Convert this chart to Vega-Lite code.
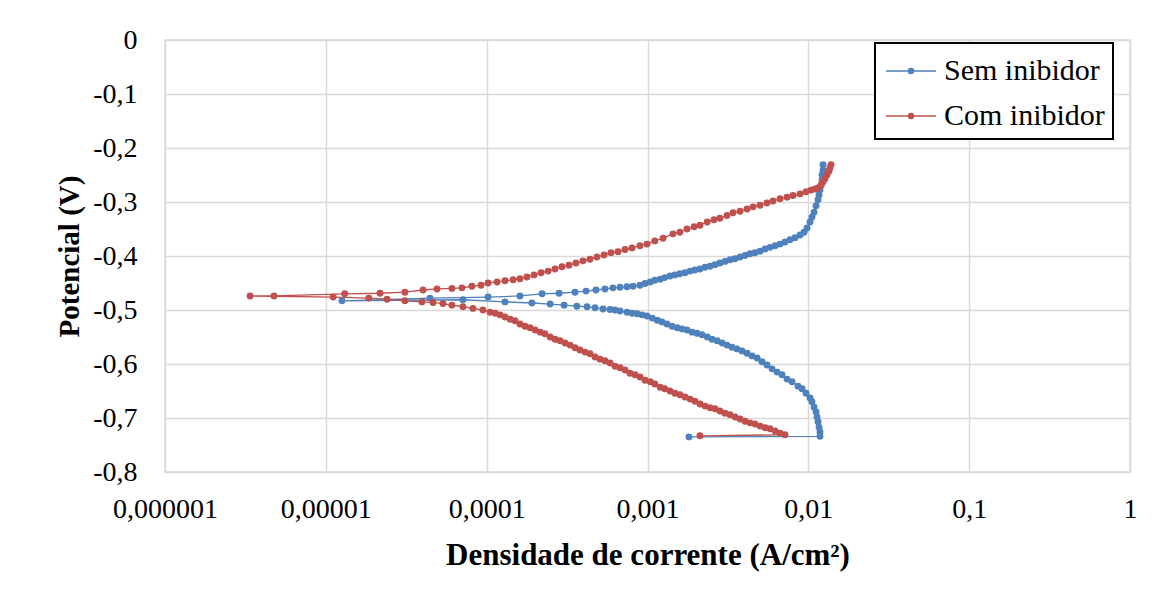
{
  "$schema": "https://vega.github.io/schema/vega-lite/v6.json",
  "width": 965,
  "height": 432,
  "autosize": {"type": "none"},
  "padding": {"left": 165, "top": 40, "right": 37, "bottom": 129},
  "background": "white",
  "config": {
    "view": {"stroke": "#D9D9D9", "strokeWidth": 1.5},
    "font": "Liberation Serif",
    "legend": {"strokeWidth": 2},
    "axis": {
      "grid": true, "gridColor": "#D9D9D9", "gridWidth": 1.5,
      "domain": false, "ticks": false, "labelFlush": false,
      "labelFont": "Liberation Serif", "labelFontSize": 28, "labelColor": "#000000",
      "titleFont": "Liberation Serif", "titleFontSize": 29, "titleFontWeight": "bold", "titleColor": "#000000"
    }
  },
  "data": {"values": [
    {"serie":"Sem inibidor","n":1,"j":0.00181,"E":-0.735},
    {"serie":"Sem inibidor","n":2,"j":0.01182,"E":-0.734},
    {"serie":"Sem inibidor","n":3,"j":0.01182,"E":-0.726},
    {"serie":"Sem inibidor","n":4,"j":0.01166,"E":-0.717},
    {"serie":"Sem inibidor","n":5,"j":0.01149,"E":-0.707},
    {"serie":"Sem inibidor","n":6,"j":0.01133,"E":-0.698},
    {"serie":"Sem inibidor","n":7,"j":0.01117,"E":-0.689},
    {"serie":"Sem inibidor","n":8,"j":0.01085,"E":-0.680},
    {"serie":"Sem inibidor","n":9,"j":0.01054,"E":-0.670},
    {"serie":"Sem inibidor","n":10,"j":0.01025,"E":-0.663},
    {"serie":"Sem inibidor","n":11,"j":0.00968,"E":-0.654},
    {"serie":"Sem inibidor","n":12,"j":0.00914,"E":-0.646},
    {"serie":"Sem inibidor","n":13,"j":0.00863,"E":-0.641},
    {"serie":"Sem inibidor","n":14,"j":0.00792,"E":-0.633},
    {"serie":"Sem inibidor","n":15,"j":0.00737,"E":-0.628},
    {"serie":"Sem inibidor","n":16,"j":0.00686,"E":-0.620},
    {"serie":"Sem inibidor","n":17,"j":0.00639,"E":-0.615},
    {"serie":"Sem inibidor","n":18,"j":0.00595,"E":-0.609},
    {"serie":"Sem inibidor","n":19,"j":0.00553,"E":-0.602},
    {"serie":"Sem inibidor","n":20,"j":0.00515,"E":-0.596},
    {"serie":"Sem inibidor","n":21,"j":0.00480,"E":-0.589},
    {"serie":"Sem inibidor","n":22,"j":0.00447,"E":-0.585},
    {"serie":"Sem inibidor","n":23,"j":0.00416,"E":-0.580},
    {"serie":"Sem inibidor","n":24,"j":0.00387,"E":-0.576},
    {"serie":"Sem inibidor","n":25,"j":0.00360,"E":-0.572},
    {"serie":"Sem inibidor","n":26,"j":0.00335,"E":-0.569},
    {"serie":"Sem inibidor","n":27,"j":0.00312,"E":-0.565},
    {"serie":"Sem inibidor","n":28,"j":0.00291,"E":-0.561},
    {"serie":"Sem inibidor","n":29,"j":0.00271,"E":-0.557},
    {"serie":"Sem inibidor","n":30,"j":0.00252,"E":-0.554},
    {"serie":"Sem inibidor","n":31,"j":0.00235,"E":-0.550},
    {"serie":"Sem inibidor","n":32,"j":0.00218,"E":-0.546},
    {"serie":"Sem inibidor","n":33,"j":0.00203,"E":-0.543},
    {"serie":"Sem inibidor","n":34,"j":0.00189,"E":-0.541},
    {"serie":"Sem inibidor","n":35,"j":0.00176,"E":-0.537},
    {"serie":"Sem inibidor","n":36,"j":0.00164,"E":-0.535},
    {"serie":"Sem inibidor","n":37,"j":0.00153,"E":-0.533},
    {"serie":"Sem inibidor","n":38,"j":0.00142,"E":-0.530},
    {"serie":"Sem inibidor","n":39,"j":0.00132,"E":-0.526},
    {"serie":"Sem inibidor","n":40,"j":0.00123,"E":-0.522},
    {"serie":"Sem inibidor","n":41,"j":0.00115,"E":-0.519},
    {"serie":"Sem inibidor","n":42,"j":0.00107,"E":-0.515},
    {"serie":"Sem inibidor","n":43,"j":0.000993,"E":-0.511},
    {"serie":"Sem inibidor","n":44,"j":0.000924,"E":-0.509},
    {"serie":"Sem inibidor","n":45,"j":0.000860,"E":-0.507},
    {"serie":"Sem inibidor","n":46,"j":0.000801,"E":-0.506},
    {"serie":"Sem inibidor","n":47,"j":0.000746,"E":-0.504},
    {"serie":"Sem inibidor","n":48,"j":0.000675,"E":-0.502},
    {"serie":"Sem inibidor","n":49,"j":0.000628,"E":-0.500},
    {"serie":"Sem inibidor","n":50,"j":0.000585,"E":-0.499},
    {"serie":"Sem inibidor","n":51,"j":0.000529,"E":-0.498},
    {"serie":"Sem inibidor","n":52,"j":0.000472,"E":-0.496},
    {"serie":"Sem inibidor","n":53,"j":0.000421,"E":-0.494},
    {"serie":"Sem inibidor","n":54,"j":0.000364,"E":-0.493},
    {"serie":"Sem inibidor","n":55,"j":0.000303,"E":-0.491},
    {"serie":"Sem inibidor","n":56,"j":0.000248,"E":-0.489},
    {"serie":"Sem inibidor","n":57,"j":0.000191,"E":-0.487},
    {"serie":"Sem inibidor","n":58,"j":0.000130,"E":-0.485},
    {"serie":"Sem inibidor","n":59,"j":0.0000712,"E":-0.481},
    {"serie":"Sem inibidor","n":60,"j":0.0000126,"E":-0.483},
    {"serie":"Sem inibidor","n":61,"j":0.0000444,"E":-0.478},
    {"serie":"Sem inibidor","n":62,"j":0.000102,"E":-0.476},
    {"serie":"Sem inibidor","n":63,"j":0.000161,"E":-0.474},
    {"serie":"Sem inibidor","n":64,"j":0.000221,"E":-0.470},
    {"serie":"Sem inibidor","n":65,"j":0.000282,"E":-0.469},
    {"serie":"Sem inibidor","n":66,"j":0.000354,"E":-0.467},
    {"serie":"Sem inibidor","n":67,"j":0.000415,"E":-0.465},
    {"serie":"Sem inibidor","n":68,"j":0.000478,"E":-0.463},
    {"serie":"Sem inibidor","n":69,"j":0.000544,"E":-0.461},
    {"serie":"Sem inibidor","n":70,"j":0.000610,"E":-0.459},
    {"serie":"Sem inibidor","n":71,"j":0.000675,"E":-0.458},
    {"serie":"Sem inibidor","n":72,"j":0.000746,"E":-0.457},
    {"serie":"Sem inibidor","n":73,"j":0.000813,"E":-0.456},
    {"serie":"Sem inibidor","n":74,"j":0.000898,"E":-0.454},
    {"serie":"Sem inibidor","n":75,"j":0.000965,"E":-0.451},
    {"serie":"Sem inibidor","n":76,"j":0.00104,"E":-0.448},
    {"serie":"Sem inibidor","n":77,"j":0.00111,"E":-0.445},
    {"serie":"Sem inibidor","n":78,"j":0.00120,"E":-0.443},
    {"serie":"Sem inibidor","n":79,"j":0.00128,"E":-0.440},
    {"serie":"Sem inibidor","n":80,"j":0.00138,"E":-0.437},
    {"serie":"Sem inibidor","n":81,"j":0.00148,"E":-0.435},
    {"serie":"Sem inibidor","n":82,"j":0.00159,"E":-0.433},
    {"serie":"Sem inibidor","n":83,"j":0.00171,"E":-0.431},
    {"serie":"Sem inibidor","n":84,"j":0.00184,"E":-0.428},
    {"serie":"Sem inibidor","n":85,"j":0.00197,"E":-0.426},
    {"serie":"Sem inibidor","n":86,"j":0.00212,"E":-0.424},
    {"serie":"Sem inibidor","n":87,"j":0.00228,"E":-0.421},
    {"serie":"Sem inibidor","n":88,"j":0.00245,"E":-0.419},
    {"serie":"Sem inibidor","n":89,"j":0.00263,"E":-0.416},
    {"serie":"Sem inibidor","n":90,"j":0.00282,"E":-0.413},
    {"serie":"Sem inibidor","n":91,"j":0.00303,"E":-0.410},
    {"serie":"Sem inibidor","n":92,"j":0.00326,"E":-0.407},
    {"serie":"Sem inibidor","n":93,"j":0.00350,"E":-0.405},
    {"serie":"Sem inibidor","n":94,"j":0.00376,"E":-0.402},
    {"serie":"Sem inibidor","n":95,"j":0.00404,"E":-0.399},
    {"serie":"Sem inibidor","n":96,"j":0.00434,"E":-0.396},
    {"serie":"Sem inibidor","n":97,"j":0.00466,"E":-0.394},
    {"serie":"Sem inibidor","n":98,"j":0.00501,"E":-0.391},
    {"serie":"Sem inibidor","n":99,"j":0.00538,"E":-0.387},
    {"serie":"Sem inibidor","n":100,"j":0.00578,"E":-0.384},
    {"serie":"Sem inibidor","n":101,"j":0.00621,"E":-0.381},
    {"serie":"Sem inibidor","n":102,"j":0.00667,"E":-0.378},
    {"serie":"Sem inibidor","n":103,"j":0.00716,"E":-0.374},
    {"serie":"Sem inibidor","n":104,"j":0.00770,"E":-0.370},
    {"serie":"Sem inibidor","n":105,"j":0.00827,"E":-0.366},
    {"serie":"Sem inibidor","n":106,"j":0.00888,"E":-0.361},
    {"serie":"Sem inibidor","n":107,"j":0.00940,"E":-0.356},
    {"serie":"Sem inibidor","n":108,"j":0.00982,"E":-0.348},
    {"serie":"Sem inibidor","n":109,"j":0.01025,"E":-0.337},
    {"serie":"Sem inibidor","n":110,"j":0.01054,"E":-0.328},
    {"serie":"Sem inibidor","n":111,"j":0.01085,"E":-0.319},
    {"serie":"Sem inibidor","n":112,"j":0.01117,"E":-0.307},
    {"serie":"Sem inibidor","n":113,"j":0.01149,"E":-0.296},
    {"serie":"Sem inibidor","n":114,"j":0.01166,"E":-0.287},
    {"serie":"Sem inibidor","n":115,"j":0.01182,"E":-0.278},
    {"serie":"Sem inibidor","n":116,"j":0.01199,"E":-0.269},
    {"serie":"Sem inibidor","n":117,"j":0.01217,"E":-0.259},
    {"serie":"Sem inibidor","n":118,"j":0.01217,"E":-0.250},
    {"serie":"Sem inibidor","n":119,"j":0.01234,"E":-0.241},
    {"serie":"Sem inibidor","n":120,"j":0.01234,"E":-0.231},
    {"serie":"Com inibidor","n":1,"j":0.00212,"E":-0.733},
    {"serie":"Com inibidor","n":2,"j":0.00716,"E":-0.731},
    {"serie":"Com inibidor","n":3,"j":0.00667,"E":-0.728},
    {"serie":"Com inibidor","n":4,"j":0.00621,"E":-0.724},
    {"serie":"Com inibidor","n":5,"j":0.00578,"E":-0.720},
    {"serie":"Com inibidor","n":6,"j":0.00538,"E":-0.718},
    {"serie":"Com inibidor","n":7,"j":0.00501,"E":-0.715},
    {"serie":"Com inibidor","n":8,"j":0.00466,"E":-0.711},
    {"serie":"Com inibidor","n":9,"j":0.00434,"E":-0.709},
    {"serie":"Com inibidor","n":10,"j":0.00404,"E":-0.706},
    {"serie":"Com inibidor","n":11,"j":0.00376,"E":-0.702},
    {"serie":"Com inibidor","n":12,"j":0.00350,"E":-0.698},
    {"serie":"Com inibidor","n":13,"j":0.00326,"E":-0.694},
    {"serie":"Com inibidor","n":14,"j":0.00303,"E":-0.691},
    {"serie":"Com inibidor","n":15,"j":0.00282,"E":-0.687},
    {"serie":"Com inibidor","n":16,"j":0.00263,"E":-0.683},
    {"serie":"Com inibidor","n":17,"j":0.00245,"E":-0.681},
    {"serie":"Com inibidor","n":18,"j":0.00228,"E":-0.678},
    {"serie":"Com inibidor","n":19,"j":0.00212,"E":-0.674},
    {"serie":"Com inibidor","n":20,"j":0.00197,"E":-0.669},
    {"serie":"Com inibidor","n":21,"j":0.00184,"E":-0.665},
    {"serie":"Com inibidor","n":22,"j":0.00171,"E":-0.661},
    {"serie":"Com inibidor","n":23,"j":0.00159,"E":-0.657},
    {"serie":"Com inibidor","n":24,"j":0.00148,"E":-0.654},
    {"serie":"Com inibidor","n":25,"j":0.00138,"E":-0.650},
    {"serie":"Com inibidor","n":26,"j":0.00128,"E":-0.646},
    {"serie":"Com inibidor","n":27,"j":0.00120,"E":-0.643},
    {"serie":"Com inibidor","n":28,"j":0.00111,"E":-0.637},
    {"serie":"Com inibidor","n":29,"j":0.00104,"E":-0.633},
    {"serie":"Com inibidor","n":30,"j":0.000965,"E":-0.630},
    {"serie":"Com inibidor","n":31,"j":0.000898,"E":-0.624},
    {"serie":"Com inibidor","n":32,"j":0.000836,"E":-0.620},
    {"serie":"Com inibidor","n":33,"j":0.000778,"E":-0.617},
    {"serie":"Com inibidor","n":34,"j":0.000725,"E":-0.611},
    {"serie":"Com inibidor","n":35,"j":0.000675,"E":-0.607},
    {"serie":"Com inibidor","n":36,"j":0.000628,"E":-0.604},
    {"serie":"Com inibidor","n":37,"j":0.000585,"E":-0.598},
    {"serie":"Com inibidor","n":38,"j":0.000544,"E":-0.594},
    {"serie":"Com inibidor","n":39,"j":0.000507,"E":-0.591},
    {"serie":"Com inibidor","n":40,"j":0.000472,"E":-0.587},
    {"serie":"Com inibidor","n":41,"j":0.000439,"E":-0.581},
    {"serie":"Com inibidor","n":42,"j":0.000409,"E":-0.578},
    {"serie":"Com inibidor","n":43,"j":0.000380,"E":-0.574},
    {"serie":"Com inibidor","n":44,"j":0.000354,"E":-0.570},
    {"serie":"Com inibidor","n":45,"j":0.000330,"E":-0.565},
    {"serie":"Com inibidor","n":46,"j":0.000307,"E":-0.561},
    {"serie":"Com inibidor","n":47,"j":0.000286,"E":-0.557},
    {"serie":"Com inibidor","n":48,"j":0.000266,"E":-0.554},
    {"serie":"Com inibidor","n":49,"j":0.000248,"E":-0.550},
    {"serie":"Com inibidor","n":50,"j":0.000230,"E":-0.544},
    {"serie":"Com inibidor","n":51,"j":0.000215,"E":-0.541},
    {"serie":"Com inibidor","n":52,"j":0.000200,"E":-0.537},
    {"serie":"Com inibidor","n":53,"j":0.000186,"E":-0.533},
    {"serie":"Com inibidor","n":54,"j":0.000173,"E":-0.530},
    {"serie":"Com inibidor","n":55,"j":0.000161,"E":-0.526},
    {"serie":"Com inibidor","n":56,"j":0.000150,"E":-0.520},
    {"serie":"Com inibidor","n":57,"j":0.000140,"E":-0.517},
    {"serie":"Com inibidor","n":58,"j":0.000130,"E":-0.513},
    {"serie":"Com inibidor","n":59,"j":0.000121,"E":-0.509},
    {"serie":"Com inibidor","n":60,"j":0.000113,"E":-0.506},
    {"serie":"Com inibidor","n":61,"j":0.000105,"E":-0.504},
    {"serie":"Com inibidor","n":62,"j":0.0000948,"E":-0.500},
    {"serie":"Com inibidor","n":63,"j":0.0000822,"E":-0.497},
    {"serie":"Com inibidor","n":64,"j":0.0000712,"E":-0.494},
    {"serie":"Com inibidor","n":65,"j":0.0000608,"E":-0.491},
    {"serie":"Com inibidor","n":66,"j":0.0000535,"E":-0.488},
    {"serie":"Com inibidor","n":67,"j":0.0000464,"E":-0.486},
    {"serie":"Com inibidor","n":68,"j":0.0000396,"E":-0.485},
    {"serie":"Com inibidor","n":69,"j":0.0000310,"E":-0.483},
    {"serie":"Com inibidor","n":70,"j":0.0000240,"E":-0.480},
    {"serie":"Com inibidor","n":71,"j":0.0000185,"E":-0.478},
    {"serie":"Com inibidor","n":72,"j":0.0000111,"E":-0.476},
    {"serie":"Com inibidor","n":73,"j":0.00000338,"E":-0.474},
    {"serie":"Com inibidor","n":74,"j":0.00000476,"E":-0.474},
    {"serie":"Com inibidor","n":75,"j":0.0000131,"E":-0.470},
    {"serie":"Com inibidor","n":76,"j":0.0000217,"E":-0.469},
    {"serie":"Com inibidor","n":77,"j":0.0000310,"E":-0.467},
    {"serie":"Com inibidor","n":78,"j":0.0000402,"E":-0.463},
    {"serie":"Com inibidor","n":79,"j":0.0000491,"E":-0.461},
    {"serie":"Com inibidor","n":80,"j":0.0000608,"E":-0.460},
    {"serie":"Com inibidor","n":81,"j":0.0000702,"E":-0.459},
    {"serie":"Com inibidor","n":82,"j":0.0000810,"E":-0.456},
    {"serie":"Com inibidor","n":83,"j":0.0000922,"E":-0.454},
    {"serie":"Com inibidor","n":84,"j":0.000102,"E":-0.450},
    {"serie":"Com inibidor","n":85,"j":0.000116,"E":-0.448},
    {"serie":"Com inibidor","n":86,"j":0.000130,"E":-0.446},
    {"serie":"Com inibidor","n":87,"j":0.000146,"E":-0.444},
    {"serie":"Com inibidor","n":88,"j":0.000161,"E":-0.442},
    {"serie":"Com inibidor","n":89,"j":0.000178,"E":-0.439},
    {"serie":"Com inibidor","n":90,"j":0.000197,"E":-0.435},
    {"serie":"Com inibidor","n":91,"j":0.000218,"E":-0.431},
    {"serie":"Com inibidor","n":92,"j":0.000241,"E":-0.428},
    {"serie":"Com inibidor","n":93,"j":0.000266,"E":-0.424},
    {"serie":"Com inibidor","n":94,"j":0.000294,"E":-0.420},
    {"serie":"Com inibidor","n":95,"j":0.000325,"E":-0.417},
    {"serie":"Com inibidor","n":96,"j":0.000359,"E":-0.413},
    {"serie":"Com inibidor","n":97,"j":0.000397,"E":-0.409},
    {"serie":"Com inibidor","n":98,"j":0.000439,"E":-0.406},
    {"serie":"Com inibidor","n":99,"j":0.000485,"E":-0.402},
    {"serie":"Com inibidor","n":100,"j":0.000537,"E":-0.398},
    {"serie":"Com inibidor","n":101,"j":0.000593,"E":-0.394},
    {"serie":"Com inibidor","n":102,"j":0.000656,"E":-0.392},
    {"serie":"Com inibidor","n":103,"j":0.000725,"E":-0.388},
    {"serie":"Com inibidor","n":104,"j":0.000801,"E":-0.385},
    {"serie":"Com inibidor","n":105,"j":0.000898,"E":-0.381},
    {"serie":"Com inibidor","n":106,"j":0.000993,"E":-0.378},
    {"serie":"Com inibidor","n":107,"j":0.00111,"E":-0.372},
    {"serie":"Com inibidor","n":108,"j":0.00125,"E":-0.367},
    {"serie":"Com inibidor","n":109,"j":0.00144,"E":-0.359},
    {"serie":"Com inibidor","n":110,"j":0.00159,"E":-0.356},
    {"serie":"Com inibidor","n":111,"j":0.00176,"E":-0.350},
    {"serie":"Com inibidor","n":112,"j":0.00195,"E":-0.346},
    {"serie":"Com inibidor","n":113,"j":0.00212,"E":-0.343},
    {"serie":"Com inibidor","n":114,"j":0.00235,"E":-0.337},
    {"serie":"Com inibidor","n":115,"j":0.00259,"E":-0.333},
    {"serie":"Com inibidor","n":116,"j":0.00282,"E":-0.330},
    {"serie":"Com inibidor","n":117,"j":0.00312,"E":-0.325},
    {"serie":"Com inibidor","n":118,"j":0.00340,"E":-0.320},
    {"serie":"Com inibidor","n":119,"j":0.00376,"E":-0.317},
    {"serie":"Com inibidor","n":120,"j":0.00416,"E":-0.313},
    {"serie":"Com inibidor","n":121,"j":0.00453,"E":-0.309},
    {"serie":"Com inibidor","n":122,"j":0.00501,"E":-0.306},
    {"serie":"Com inibidor","n":123,"j":0.00553,"E":-0.302},
    {"serie":"Com inibidor","n":124,"j":0.00603,"E":-0.298},
    {"serie":"Com inibidor","n":125,"j":0.00667,"E":-0.294},
    {"serie":"Com inibidor","n":126,"j":0.00737,"E":-0.291},
    {"serie":"Com inibidor","n":127,"j":0.00803,"E":-0.288},
    {"serie":"Com inibidor","n":128,"j":0.00888,"E":-0.285},
    {"serie":"Com inibidor","n":129,"j":0.00968,"E":-0.281},
    {"serie":"Com inibidor","n":130,"j":0.01039,"E":-0.278},
    {"serie":"Com inibidor","n":131,"j":0.01101,"E":-0.276},
    {"serie":"Com inibidor","n":132,"j":0.01149,"E":-0.274},
    {"serie":"Com inibidor","n":133,"j":0.01199,"E":-0.269},
    {"serie":"Com inibidor","n":134,"j":0.01234,"E":-0.263},
    {"serie":"Com inibidor","n":135,"j":0.01268,"E":-0.257},
    {"serie":"Com inibidor","n":136,"j":0.01305,"E":-0.250},
    {"serie":"Com inibidor","n":137,"j":0.01343,"E":-0.243},
    {"serie":"Com inibidor","n":138,"j":0.01362,"E":-0.237},
    {"serie":"Com inibidor","n":139,"j":0.01384,"E":-0.231}
  ]},
  "mark": {"type": "line", "strokeWidth": 1.3, "point": {"filled": true, "size": 48, "opacity": 1}},
  "encoding": {
    "x": {
      "field": "j", "type": "quantitative",
      "scale": {"type": "log", "domain": [0.000001, 1], "nice": false},
      "axis": {
        "title": "Densidade de corrente (A/cm²)",
        "values": [0.000001, 0.00001, 0.0001, 0.001, 0.01, 0.1, 1],
        "labelExpr": "replace(format(datum.value, '~f'), '.', ',')",
        "labelPadding": 23, "titlePadding": 17, "titleFontSize": 31
      }
    },
    "y": {
      "field": "E", "type": "quantitative",
      "scale": {"domain": [-0.8, 0], "nice": false, "zero": false},
      "axis": {
        "title": "Potencial (V)",
        "values": [-0.8, -0.7, -0.6, -0.5, -0.4, -0.3, -0.2, -0.1, 0],
        "labelExpr": "datum.value == 0 ? '0' : replace(replace(format(datum.value, '.1f'), '.', ','), '\u2212', '-')",
        "labelPadding": 28, "titlePadding": 8
      }
    },
    "order": {"field": "n", "type": "quantitative"},
    "color": {
      "field": "serie", "type": "nominal",
      "scale": {"domain": ["Sem inibidor", "Com inibidor"], "range": ["#4F81BD", "#C0504D"]},
      "legend": {
        "title": null, "orient": "none", "legendX": 710, "legendY": 3,
        "strokeColor": "#000000", "fillColor": "white",
        "padding": 8, "labelFont": "Liberation Serif", "labelFontSize": 30, "labelColor": "#000000", "labelLimit": 400,
        "symbolType": "M-0.895,0H1.737M0.29,0A0.13,0.13 0 1,1 0.55,0A0.13,0.13 0 1,1 0.29,0",
        "symbolSize": 1444, "symbolStrokeWidth": 1.5, "labelOffset": 21, "rowPadding": 10
      }
    }
  }
}
